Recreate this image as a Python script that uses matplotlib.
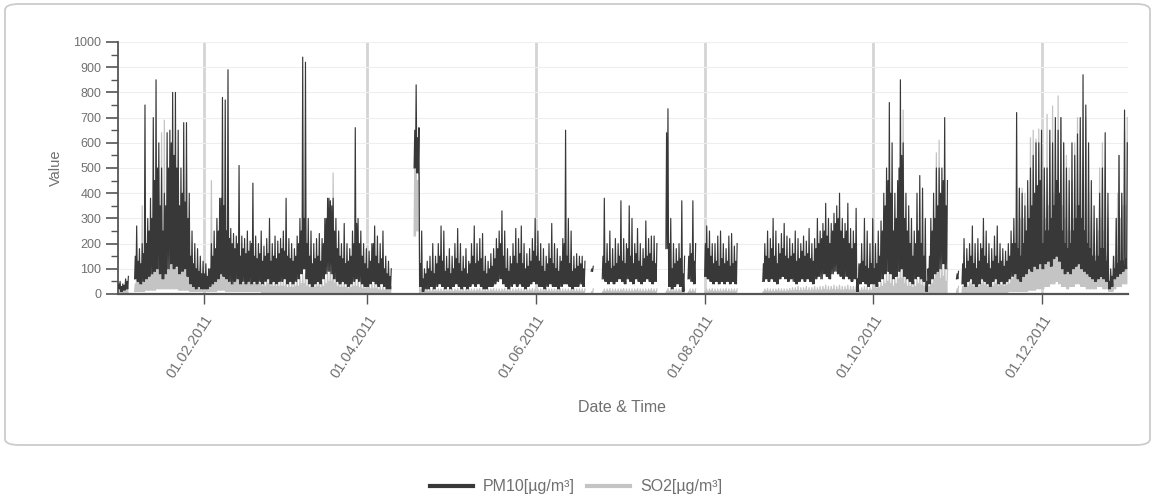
import numpy as np
import pandas as pd
import matplotlib
matplotlib.use('Agg')
import matplotlib.pyplot as plt
import matplotlib.dates as mdates
from matplotlib.ticker import MultipleLocator
from matplotlib.patches import FancyBboxPatch
from matplotlib.lines import Line2D
from matplotlib import font_manager

N = None
year_start = '2011-01-01'
year_end = '2012-01-01'
tick_dates = ['2011-02-01', '2011-04-01', '2011-06-01', '2011-08-01', '2011-10-01', '2011-12-01']
series_names = ['PM10[µg/m³]', 'SO2[µg/m³]']
y_ticks = [0, 100, 200, 300, 400, 500, 600, 700, 800, 900, 1000]

# ---- PM10 daily low / typical high / daily peak ----
pm10_lo = (
    [20,10,15,20,N,N,60,50,40,50,60,70,80,90,100,80,60,80,100,120,100,110,80,90,100,70,40,30,20,30,20] +
    [20,20,30,40,50,60,80,70,60,50,40,50,60,40,50,40,50,40,50,40,50,40,50,60,40,50,40,50] +
    [50,60,40,50,40,50,60,80,100,60,40,30,40,50,40,60,80,90,80,60,50,40,50,40,30,40,50,60,50,40,30] +
    [30,40,50,40,30,40,30,20,20,N,N,N,N,N,N,N,N,500,480,30,10,20,20,30,20,30,40,30,20,30] +
    [20,30,40,30,20,30,20,30,40,30,40,30,20,20,30,30,40,50,60,40,30,20,30,40,30,40,30,20,30,40,50] +
    [40,30,30,20,30,40,30,30,20,30,40,40,30,20,30,30,40,30,N,N,90,N,N,N,60,50,40,50,40,50] +
    [60,50,40,60,50,40,60,50,40,50,60,50,40,50,N,N,N,180,30,20,30,40,30,10,N,60,50,40,N,N,N] +
    [70,60,50,40,50,40,50,40,50,40,50,40,N,N,N,N,N,N,N,N,N,50,60,50,60,50,40,60,70,60,50] +
    [60,50,40,50,60,50,60,50,40,60,70,60,80,70,60,80,90,80,70,60,70,60,50,60,10,40,50,40,30,40] +
    [40,30,50,60,80,90,80,60,70,90,100,70,60,50,40,60,70,60,50,10,40,60,80,90,100,120,100,N,N,N,60] +
    [N,40,30,50,60,40,30,40,60,50,40,30,50,60,40,50,40,50,60,70,80,60,50,70,80,100,90,110,100,120] +
    [100,120,130,110,140,150,130,100,80,90,80,100,110,120,100,90,80,70,60,50,60,70,60,50,20,30,60,70,80,90,100]
)
pm10_core = (
    [40,30,35,50,N,N,150,130,120,160,200,250,300,450,500,350,250,350,500,600,550,500,350,400,365,300,150,120,100,90,80] +
    [80,70,100,150,180,250,380,350,250,220,200,180,200,150,180,160,170,200,150,140,160,130,150,160,130,150,140,160] +
    [180,170,150,140,130,150,200,250,300,200,150,120,140,150,130,200,300,380,350,250,180,150,140,120,130,150,200,280,200,150,120] +
    [100,130,200,150,120,140,100,80,70,N,N,N,N,N,N,N,N,650,620,120,60,80,100,90,80,120,150,130,90,100] +
    [80,100,140,120,90,100,80,120,150,120,130,140,90,80,100,110,140,180,200,150,100,90,120,150,120,160,120,100,110,130,170] +
    [150,130,110,90,120,140,120,100,90,130,200,150,120,90,100,110,120,100,N,N,100,N,N,N,150,120,130,100,110,120] +
    [150,130,120,180,150,120,160,130,110,140,150,160,130,120,N,N,N,640,200,100,120,130,140,80,N,150,160,130,N,N,N] +
    [200,180,150,120,130,110,140,120,130,110,120,130,N,N,N,N,N,N,N,N,N,120,150,140,180,150,120,160,180,150,140] +
    [150,160,130,140,170,150,160,140,130,180,200,220,250,230,200,250,280,300,250,220,250,200,180,200,60,120,130,110,100,120] +
    [100,120,150,250,350,450,400,250,300,500,550,300,250,200,150,200,250,200,150,50,150,250,300,350,400,450,350,N,N,N,80] +
    [N,120,100,130,150,120,100,130,180,150,120,100,130,150,120,130,110,130,150,200,200,180,150,200,250,300,350,400,430,450] +
    [200,250,250,300,350,450,400,250,200,180,200,250,300,350,300,250,200,180,150,130,150,180,180,130,50,70,100,120,130,130,140]
)
pm10_peak = (
    [50,40,60,70,N,N,270,180,200,750,300,380,700,850,600,500,400,640,650,800,800,650,500,680,680,400,250,200,180,150,130] +
    [120,100,200,250,300,380,780,770,890,260,240,230,510,230,220,250,210,440,230,200,250,190,220,300,200,230,210,220] +
    [250,380,220,200,180,230,300,940,920,300,250,200,220,240,220,300,380,370,380,300,250,200,280,200,180,250,660,300,250,200,180] +
    [170,200,270,230,200,250,150,130,100,N,N,N,N,N,N,N,N,830,660,250,100,130,150,200,150,200,270,250,150,180] +
    [150,200,260,200,150,180,130,200,270,200,220,240,150,130,160,180,220,250,330,250,180,150,200,260,220,270,200,160,180,220,300] +
    [250,200,180,150,200,280,200,180,150,220,650,300,250,150,160,150,150,130,N,N,110,N,N,N,380,200,250,180,220,200] +
    [370,220,200,350,300,200,260,200,180,290,220,230,230,200,N,N,N,735,300,200,180,200,370,150,N,200,370,200,N,N,N] +
    [270,250,200,200,230,250,200,180,230,240,190,200,N,N,N,N,N,N,N,N,N,200,250,220,300,250,200,240,280,230,220] +
    [200,250,220,200,230,210,260,200,220,300,250,280,360,300,280,320,350,400,300,280,360,260,250,340,120,200,300,250,200,300] +
    [200,250,290,400,500,760,600,400,450,850,600,400,350,300,250,400,470,420,300,100,300,400,500,500,500,700,450,N,N,N,90] +
    [N,220,180,200,270,200,220,200,300,250,200,180,230,270,200,180,170,200,250,300,720,420,400,350,450,500,550,600,600,650] +
    [500,500,650,600,700,650,700,600,500,450,600,550,635,700,870,750,600,450,350,300,400,500,640,400,100,150,300,550,400,730,600]
)

# ---- SO2 daily low / typical high / daily peak ----
so2_lo = (
    [5,5,5,5,N,N,10,10,10,10,15,15,15,15,20,20,20,20,20,20,20,20,15,15,15,15,10,10,10,10,10] +
    [10,10,10,10,10,15,15,15,10,10,10,10,10,10,10,10,10,10,10,10,10,5,5,5,5,5,5,5] +
    [5,5,5,5,5,5,5,5,5,5,5,5,5,5,5,5,5,5,5,5,5,5,5,5,5,5,5,5,5,5,5] +
    [5,5,5,5,5,5,5,5,5,N,N,N,N,N,N,N,N,230,250,5,3,3,3,3,3,3,3,3,3,3] +
    [3,3,3,3,3,3,3,3,3,3,3,3,3,3,3,3,3,3,3,3,3,3,3,3,3,3,3,3,3,3,3] +
    [3,3,3,3,3,3,3,3,3,3,3,3,3,3,3,3,3,3,N,N,3,N,N,N,3,3,3,3,3,3] +
    [3,3,3,3,3,3,3,3,3,3,3,3,3,3,N,N,N,3,3,3,3,3,3,3,N,3,3,3,N,N,N] +
    [3,3,3,3,3,3,3,3,3,3,3,3,N,N,N,N,N,N,N,N,N,3,3,3,3,3,3,3,3,3,3] +
    [3,3,3,3,3,3,3,3,3,3,3,3,3,3,3,3,3,3,3,3,3,3,3,3,3,3,3,3,3,3] +
    [5,5,5,5,5,5,5,5,5,5,5,5,5,5,5,5,5,5,5,5,5,5,5,5,5,5,5,N,N,N,5] +
    [N,5,5,5,5,5,5,5,5,5,5,5,5,5,5,5,5,5,10,10,10,10,10,10,10,15,15,15,20,20] +
    [20,30,30,40,40,50,40,30,30,20,30,30,40,40,30,30,20,20,20,20,30,30,20,20,10,10,20,30,30,40,40]
)
so2_core = (
    [20,15,20,25,N,N,40,50,60,60,80,90,100,100,120,150,150,120,130,120,110,100,100,110,100,80,60,50,40,50,40] +
    [40,40,50,60,60,80,80,70,60,50,50,50,60,50,40,40,50,60,40,40,40,30,30,40,30,30,30,30] +
    [30,30,25,25,25,30,30,40,40,30,25,25,25,30,25,30,40,50,50,40,30,25,25,25,20,25,30,30,25,20,20] +
    [20,20,20,20,15,15,15,15,15,N,N,N,N,N,N,N,N,500,450,15,10,10,10,10,10,10,10,10,10,10] +
    [10,10,12,10,10,10,12,10,10,10,12,10,10,10,10,12,10,10,10,12,10,10,10,10,12,10,10,10,10,12,10] +
    [10,10,10,12,10,10,10,10,12,10,10,10,10,12,10,10,10,10,N,N,10,N,N,N,10,10,12,10,10,10] +
    [10,12,10,10,10,10,12,10,10,10,10,12,10,10,N,N,N,12,10,10,10,10,12,10,N,10,10,10,N,N,N] +
    [10,10,12,10,10,10,10,12,10,10,10,10,N,N,N,N,N,N,N,N,N,10,12,10,10,10,12,10,10,10,12] +
    [12,12,15,12,12,15,12,12,15,12,15,15,18,15,15,18,15,18,15,15,18,15,15,15,10,12,15,15,12,15] +
    [20,20,25,30,40,50,40,30,40,60,60,40,30,30,25,30,40,35,30,15,30,40,60,80,60,70,50,N,N,N,20] +
    [N,30,25,30,40,30,25,30,40,35,30,25,30,40,30,35,30,35,40,60,100,200,300,300,250,150,200,250,250,300] +
    [200,300,350,300,400,350,300,350,300,250,250,300,350,300,250,250,200,150,150,150,250,300,250,150,30,50,150,400,300,350,350]
)
so2_peak = (
    [30,25,40,50,N,N,80,100,350,150,200,250,300,250,300,640,690,300,450,350,300,250,300,250,200,150,100,100,80,90,80] +
    [80,80,450,120,100,150,150,120,100,90,80,90,100,80,80,70,90,100,70,80,70,60,60,80,60,60,60,60] +
    [60,60,50,50,50,60,70,80,80,60,50,50,50,60,50,60,80,100,480,80,60,50,50,50,40,50,60,60,50,40,40] +
    [40,40,40,40,30,30,30,30,30,N,N,N,N,N,N,N,N,500,480,30,20,20,20,20,20,20,20,20,20,20] +
    [20,20,22,20,20,20,22,20,20,20,22,20,20,20,20,22,20,20,20,22,20,20,20,20,22,20,20,20,20,22,20] +
    [20,20,20,22,20,20,20,20,22,20,20,20,20,22,20,20,20,20,N,N,20,N,N,N,20,20,22,20,20,20] +
    [20,22,20,20,20,20,22,20,20,20,20,22,20,20,N,N,N,22,20,20,20,20,22,20,N,20,20,20,N,N,N] +
    [20,20,22,20,20,20,20,22,20,20,20,20,N,N,N,N,N,N,N,N,N,20,22,20,20,20,22,20,20,20,22] +
    [25,25,30,25,25,30,25,25,30,25,30,30,35,30,30,35,30,35,30,30,35,30,30,30,20,25,30,30,25,30] +
    [40,40,50,60,80,100,80,60,80,120,730,80,60,60,50,60,80,70,60,30,60,80,560,610,120,150,100,N,N,N,30] +
    [N,60,50,60,80,60,50,60,80,70,60,50,60,80,60,70,60,70,80,120,300,420,420,400,350,620,650,615,655,600] +
    [500,713,600,746,650,786,700,600,550,500,450,600,700,650,500,700,400,300,250,300,500,600,500,300,60,80,300,550,400,650,700]
)

# ---- expand each day's low/high/peak into an intra-day zigzag ----
def expand(lo, core, peak):
    lo = np.array(lo, dtype=float)
    core = np.array(core, dtype=float)
    peak = np.array(peak, dtype=float)
    days = pd.date_range(year_start, periods=len(lo), freq='D')
    hours = [0, 6, 12, 18]
    times, vals = [], []
    for i, d in enumerate(days):
        seq = [lo[i], core[i], lo[i], peak[i]]
        for h, v in zip(hours, seq):
            times.append(d + pd.Timedelta(hours=h))
            vals.append(v)
    return pd.DatetimeIndex(times), np.array(vals)

t_pm, v_pm = expand(pm10_lo, pm10_core, pm10_peak)
t_so, v_so = expand(so2_lo, so2_core, so2_peak)

names = {f.name for f in font_manager.fontManager.ttflist}
fam = 'Liberation Sans Narrow' if 'Liberation Sans Narrow' in names else 'Liberation Sans'
plt.rcParams['font.family'] = [fam, 'DejaVu Sans']

W, H = 1156, 504
fig = plt.figure(figsize=(W / 100, H / 100), dpi=100)
ax = fig.add_axes([118 / W, 1 - 294 / H, 1010 / W, 252 / H])

pm_color = '#383838'
so_color = '#c4c4c4'
text_color = '#707070'

ax.plot(t_so, v_so, color=so_color, lw=0.9, zorder=2)
ax.plot(t_pm, v_pm, color=pm_color, lw=0.85, zorder=3)

ax.set_xlim(pd.Timestamp(year_start), pd.Timestamp(year_end))
ax.set_ylim(0, 1000)
ax.set_yticks(y_ticks)
ax.yaxis.set_minor_locator(MultipleLocator(50))
ax.set_xticks([pd.Timestamp(d) for d in tick_dates])
ax.xaxis.set_major_formatter(mdates.DateFormatter('%d.%m.%Y'))

for lab in ax.get_xticklabels():
    lab.set_rotation(57)
    lab.set_ha('right')
    lab.set_rotation_mode('anchor')

ax.tick_params(axis='y', which='major', length=9, width=1.2, color='#555555',
               labelsize=9, labelcolor=text_color, pad=3)
ax.tick_params(axis='y', which='minor', length=5, width=1.0, color='#555555')
ax.tick_params(axis='x', which='major', length=7, width=1.0, color='#555555',
               labelsize=10.5, labelcolor=text_color, pad=6)

for s in ['top', 'right']:
    ax.spines[s].set_visible(False)
ax.spines['left'].set_color('#555555')
ax.spines['left'].set_linewidth(1.3)
ax.spines['bottom'].set_color('#555555')
ax.spines['bottom'].set_linewidth(1.6)

ax.grid(axis='y', which='major', color='#eeeeee', lw=0.8, zorder=0)
ax.grid(axis='x', which='major', color='#d4d4d4', lw=2.0, zorder=0)
ax.set_axisbelow(True)

ax.set_ylabel('Value', fontsize=10.5, color=text_color)
ax.yaxis.set_label_coords(-0.055, 0.5)
fig.text(622 / W, 1 - 407 / H, 'Date & Time', ha='center', va='center',
         fontsize=11.5, color=text_color)

border = FancyBboxPatch((5 / W, 1 - 445 / H), 1145 / W, 441 / H,
                        boxstyle='round,pad=0,rounding_size=0.012',
                        transform=fig.transFigure, facecolor='none',
                        edgecolor='#cccccc', lw=1.3)
fig.add_artist(border)

handles = [Line2D([], [], color=pm_color, lw=3), Line2D([], [], color=so_color, lw=3)]
fig.legend(handles, series_names, loc='center', bbox_to_anchor=(576 / W, 1 - 487 / H),
           ncol=2, frameon=False, handlelength=2.7, columnspacing=0.8,
           handletextpad=0.6, fontsize=11.5, labelcolor=text_color)

fig.savefig('out.png', dpi=100)
